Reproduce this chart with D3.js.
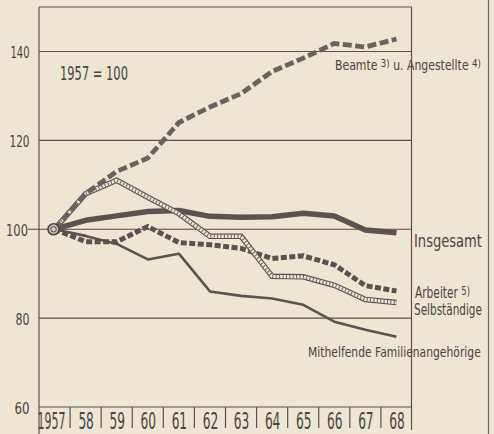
<!DOCTYPE html>
<html>
<head>
<meta charset="utf-8">
<script src="https://cdn.jsdelivr.net/npm/d3@7/dist/d3.min.js"></script>
<style>
  html, body { margin: 0; padding: 0; background: #ede6d2; }
  svg { display: block; }
  text { font-family: "Liberation Sans Narrow", "DejaVu Sans Condensed", "Roboto Condensed", sans-serif; fill: #4a4443; }
</style>
</head>
<body>
<svg id="chart" width="494" height="434"></svg>
<script>
// ---- data ----
const years = ["1957", "58", "59", "60", "61", "62", "63", "64", "65", "66", "67", "68"];
const yTicks = [60, 80, 100, 120, 140];
const beamte = [100, 108, 113, 116, 124, 127.5, 130.5, 135.5, 138.5, 141.8, 141, 142.8];
const insgesamt = [100, 102, 103, 104, 104.2, 102.9, 102.7, 102.8, 103.6, 103, 99.8, 99.2];
const selbstaendige = [100, 108, 111, 107.2, 103.5, 98.4, 98.4, 89.4, 89.3, 87.4, 84.2, 83.5];
const arbeiter = [100, 97.2, 97.2, 100.6, 97, 96.5, 95.7, 93.4, 94, 92, 87.3, 86.1];
const mithelfende = [100, 98.5, 96.7, 93.2, 94.5, 86, 85, 84.4, 83, 79.2, 77.4, 75.8];

const svg = d3.select("#chart");
const ink = "#4a4443";
const lineCol = "#5a5350";

const x = d3.scaleBand().domain(years).range([39, 412]).padding(0);
const y = d3.scaleLinear().domain([60, 150]).range([407, 7]);
const cx = d => x(d) + x.bandwidth() / 2;

// helper: place a text (possibly with superscript parts) and squeeze it to a target width
function fitText(parts, xx, yy, fs, w, anchor) {
  const t = svg.append("text").attr("font-size", fs);
  parts.forEach(p => {
    const ts = t.append("tspan").text(p.t);
    if (p.sup) ts.attr("font-size", fs * 0.8).attr("dy", -2.5);
    if (p.back) ts.attr("dy", 2.5);
  });
  const nat = t.node().getComputedTextLength() || w;
  const sx = w / nat;
  let x0 = xx;
  if (anchor === "end") x0 = xx - w;
  if (anchor === "middle") x0 = xx - w / 2;
  t.attr("transform", `translate(${x0},${yy}) scale(${sx},1)`);
  return t;
}

// page edge line on right
svg.append("line").attr("x1", 488.5).attr("x2", 488.5).attr("y1", 0).attr("y2", 434)
  .attr("stroke", "#6e6a66").attr("stroke-width", 1.2);

// gridlines
svg.append("g").selectAll("line").data(yTicks.filter(v => v > 60)).join("line")
  .attr("x1", d => d === 100 ? 28 : 39).attr("x2", 412)
  .attr("y1", d => y(d)).attr("y2", d => y(d))
  .attr("stroke", d => d === 100 ? "#5e463e" : "#5d514c").attr("stroke-width", 1.1);

// frame
svg.append("line").attr("x1", 39).attr("x2", 412).attr("y1", y(150)).attr("y2", y(150)).attr("stroke", "#5d514c").attr("stroke-width", 1.1);
svg.append("line").attr("x1", 39).attr("x2", 412).attr("y1", y(60)).attr("y2", y(60)).attr("stroke", "#5d514c").attr("stroke-width", 1.2);
svg.append("line").attr("x1", 39).attr("x2", 39).attr("y1", y(150)).attr("y2", 434).attr("stroke", "#5d514c").attr("stroke-width", 1.2);
svg.append("line").attr("x1", 411.5).attr("x2", 411.5).attr("y1", y(150)).attr("y2", 430).attr("stroke", "#5d514c").attr("stroke-width", 1.2);

// x separators
svg.append("g").selectAll("line").data(years.slice(1)).join("line")
  .attr("x1", d => x(d)).attr("x2", d => x(d))
  .attr("y1", y(60)).attr("y2", 428)
  .attr("stroke", "#5d514c").attr("stroke-width", 1.2);

// y labels
const yLabW = {60: 15, 80: 14, 100: 22, 120: 20, 140: 19};
yTicks.forEach(v => fitText([{t: String(v)}], v === 100 ? 28 : 29.5, y(v) + 7, 16.5, yLabW[v], "end"));

// x labels
years.forEach(d => fitText([{t: d}], d === "1957" ? cx(d) - 3 : cx(d) + 0.5, 428.5, 23, d === "1957" ? 28 : 15.5, "middle"));

const line = d3.line().x((d, i) => cx(years[i])).y(d => y(d)).curve(d3.curveLinear);

// Mithelfende
svg.append("path").attr("d", line(mithelfende)).attr("fill", "none")
  .attr("stroke", lineCol).attr("stroke-width", 2.6).attr("stroke-linejoin", "round");
// Insgesamt
svg.append("path").attr("d", line(insgesamt)).attr("fill", "none")
  .attr("stroke", "#5b5351").attr("stroke-width", 5.5).attr("stroke-linejoin", "round");
// Arbeiter
svg.append("path").attr("d", line(arbeiter)).attr("fill", "none")
  .attr("stroke", "#5a5250").attr("stroke-width", 5).attr("stroke-dasharray", "6,2.5");
// Selbständige (double line with rungs)
svg.append("path").attr("d", line(selbstaendige)).attr("fill", "none")
  .attr("stroke", "#5a5250").attr("stroke-width", 5.5).attr("stroke-linejoin", "miter");
svg.append("path").attr("d", line(selbstaendige)).attr("fill", "none")
  .attr("stroke", "#eee8d8").attr("stroke-width", 3.2).attr("stroke-linejoin", "miter");
svg.append("path").attr("d", line(selbstaendige)).attr("fill", "none")
  .attr("stroke", "#6a6260").attr("stroke-width", 3.4).attr("stroke-dasharray", "1,2.4");
// Beamte
svg.append("path").attr("d", line(beamte)).attr("fill", "none")
  .attr("stroke", "#6a625f").attr("stroke-width", 4.8).attr("stroke-dasharray", "9,3.5");

// origin marker
svg.append("circle").attr("cx", cx("1957") - 1).attr("cy", y(100)).attr("r", 5.5)
  .attr("fill", "#cfc7b8").attr("stroke", ink).attr("stroke-width", 1.6);
svg.append("circle").attr("cx", cx("1957") - 1).attr("cy", y(100)).attr("r", 2.8)
  .attr("fill", "none").attr("stroke", ink).attr("stroke-width", 1);

// annotations
fitText([{t: "1957 = 100"}], 60, 79.5, 20, 68);
fitText([{t: "Beamte "}, {t: "3)", sup: true}, {t: " u. Angestellte ", back: true}, {t: "4)", sup: true}], 335, 69.5, 14, 146);
fitText([{t: "Insgesamt"}], 414, 247, 17.5, 68);
fitText([{t: "Arbeiter "}, {t: "5)", sup: true}], 415, 297.5, 15, 55);
fitText([{t: "Selbständige"}], 414, 314.5, 15, 68);
fitText([{t: "Mithelfende Familienangehörige"}], 308, 357, 14.5, 173);
</script>
</body>
</html>
